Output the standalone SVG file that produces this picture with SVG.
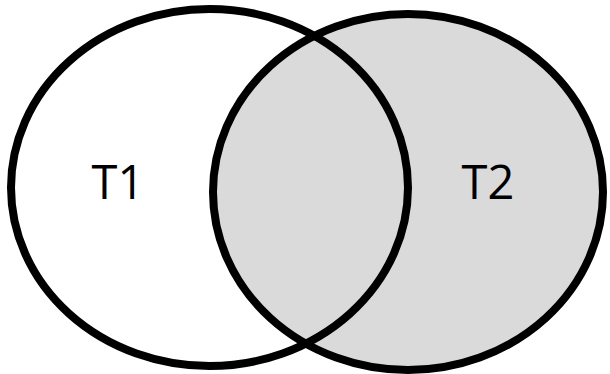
<svg xmlns="http://www.w3.org/2000/svg" width="610" height="374" viewBox="0 0 610 374">
<style>
.ring{stroke:#000;stroke-width:8}
.lbl{font-family:"Open Sans","Liberation Sans",Arial,sans-serif;font-size:47px;fill:#000;text-anchor:middle}
</style>
<rect width="610" height="374" fill="#fff"/>
<g id="T2">
<ellipse class="ring" cx="408" cy="192" rx="195" ry="178" fill="#dadada"/>
<text class="lbl" x="488" y="199">T2</text>
</g>
<g id="T1">
<ellipse class="ring" cx="209.5" cy="187.5" rx="198.5" ry="178.5" fill="none"/>
<text class="lbl" x="118" y="199">T1</text>
</g>
</svg>
